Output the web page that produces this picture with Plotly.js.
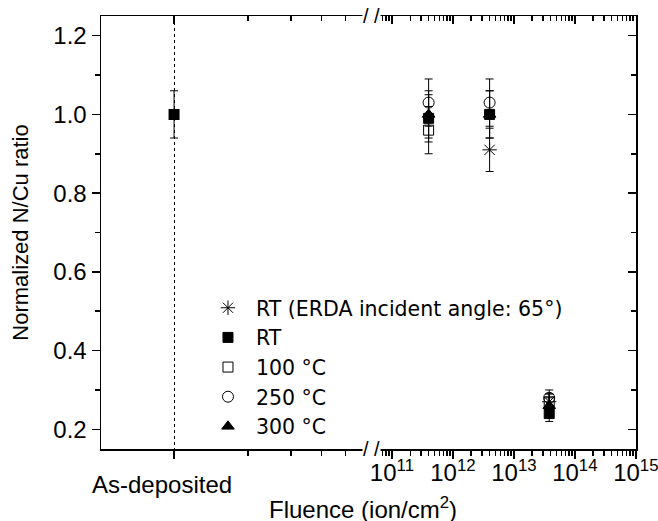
<!DOCTYPE html>
<html>
<head>
<meta charset="utf-8">
<script src="https://cdn.plot.ly/plotly-3.0.1.min.js"></script>
<style>html,body{margin:0;padding:0;background:#fff}#plot{width:658px;height:521px}</style>
</head>
<body>
<div id="plot"></div>
<script>
// ---- data ----
const asDepX = [1];              // position of the "As-deposited" category on the left (broken) axis
const asDepY = [1.0];
const asDepErr = [0.06];

const erdaX = [4e12, 3.8e13];
const erdaY = [0.91, 0.27];
const erdaErr = [0.055, 0.02];

const rtX = [4e11, 4e12, 3.8e13];
const rtY = [0.99, 1.00, 0.24];
const rtErr = [0.06, 0.06, 0.02];

const t100X = [4e11, 3.8e13];
const t100Y = [0.96, 0.27];
const t100Err = [0.06, 0.02];

const t250X = [4e11, 4e12, 3.8e13];
const t250Y = [1.03, 1.03, 0.28];
const t250Err = [0.06, 0.06, 0.02];

const t300X = [4e11, 4e12, 3.8e13];
const t300Y = [1.00, 1.00, 0.26];
const t300Err = [0.06, 0.06, 0.02];

const decades = [1e11, 1e12, 1e13, 1e14, 1e15];
const decadeLabels = ['10<sup>11</sup>', '10<sup>12</sup>', '10<sup>13</sup>', '10<sup>14</sup>', '10<sup>15</sup>'];
const leftTickVals = [1];
const leftTickText = ['As-deposited'];
const leftMinor = [2, 3, 4, 5];

// ---- build ----
const FAM = 'Liberation Sans, Arial, Helvetica, sans-serif';
const tickFont = {family: FAM, size: 24, color: '#000'};
function err(a) { return {type: 'data', array: a, visible: true, color: '#000', thickness: 1, width: 4}; }
function series(name, x, y, e, symbol, size) {
  return {type: 'scatter', mode: 'markers', name: name, x: x, y: y, xaxis: 'x2', yaxis: 'y',
    error_y: err(e), hoverinfo: 'skip',
    marker: {symbol: symbol, size: size, color: '#000', line: {color: '#000', width: 1}}};
}
function ghost(x, y, xa, ya) {
  return {type: 'scatter', mode: 'markers', x: x, y: y, xaxis: xa, yaxis: ya, showlegend: false,
    hoverinfo: 'skip', marker: {opacity: 0, size: 1}};
}
const traces = [
  {type: 'scatter', mode: 'markers', name: 'as-dep', showlegend: false, x: asDepX, y: asDepY,
   xaxis: 'x', yaxis: 'y', error_y: err(asDepErr), hoverinfo: 'skip',
   marker: {symbol: 'square', size: 11, color: '#000'}},
  series('RT (ERDA incident angle: 65°)', erdaX, erdaY, erdaErr, 'asterisk-open', 12),
  series('RT', rtX, rtY, rtErr, 'square', 10),
  series('100 °C', t100X, t100Y, t100Err, 'square-open', 10),
  series('250 °C', t250X, t250Y, t250Err, 'circle-open', 11),
  series('300 °C', t300X, t300Y, t300Err, 'triangle-up', 11),
  ghost(asDepX, asDepY, 'x3', 'y'),
  ghost(rtX, rtY, 'x4', 'y'),
  ghost(rtX, rtY, 'x2', 'y2')
];

const minorRight = [];
for (let d = 10; d <= 14; d++) for (let k = 2; k <= 9; k++) minorRight.push(k * Math.pow(10, d));

const split = 0.505;
const leftRange = [-0.298, 0.804];
const rightRange = [10.66, 15.003];
const yRange = [0.15, 1.25];

const common = {showline: true, linecolor: '#000', linewidth: 1.5, showgrid: false, zeroline: false,
  tickwidth: 1.5, tickcolor: '#000', ticklen: 8, fixedrange: true, tickfont: tickFont};

const layout = {
  width: 658, height: 521,
  margin: {l: 101, r: 22, t: 16, b: 72},
  paper_bgcolor: '#fff', plot_bgcolor: '#fff',
  font: tickFont,
  showlegend: true,
  legend: {x: 0.185, y: 0.372, xanchor: 'left', yanchor: 'top', bgcolor: 'rgba(0,0,0,0)',
           font: {family: 'DejaVu Sans, sans-serif', size: 20.5, color: '#000'}, tracegroupgap: 0, itemwidth: 46},
  xaxis: Object.assign({}, common, {type: 'log', domain: [0, split], range: leftRange, anchor: 'y',
          tickmode: 'array', tickvals: leftTickVals, ticktext: leftTickText, ticks: 'outside',
          ticklabelshift: -12, ticklabelstandoff: 6,
          showgrid: true, gridcolor: '#000', griddash: 'dot', gridwidth: 1,
          minor: {tickmode: 'array', tickvals: leftMinor, ticks: 'outside', ticklen: 5, tickcolor: '#000', showgrid: false}}),
  xaxis2: Object.assign({}, common, {type: 'log', domain: [split, 1], range: rightRange, anchor: 'y',
          tickmode: 'array', tickvals: decades, ticktext: decadeLabels, ticks: 'outside',
          ticklabelstandoff: -6, ticklabeloverflow: 'allow',
          minor: {tickmode: 'array', tickvals: minorRight, ticks: 'outside', ticklen: 5, tickcolor: '#000', showgrid: false}}),
  xaxis3: Object.assign({}, common, {type: 'log', overlaying: 'x', side: 'top', range: leftRange, anchor: 'y',
          tickmode: 'array', tickvals: leftTickVals, showticklabels: false, ticks: 'inside',
          minor: {tickmode: 'array', tickvals: leftMinor, ticks: 'inside', ticklen: 5, tickcolor: '#000', showgrid: false}}),
  xaxis4: Object.assign({}, common, {type: 'log', overlaying: 'x2', side: 'top', range: rightRange, anchor: 'y',
          tickmode: 'array', tickvals: decades, showticklabels: false, ticks: 'inside',
          minor: {tickmode: 'array', tickvals: minorRight, ticks: 'inside', ticklen: 5, tickcolor: '#000', showgrid: false}}),
  yaxis: Object.assign({}, common, {range: yRange, anchor: 'x', dtick: 0.2, tick0: 0, tickformat: '.1f',
          ticks: 'outside',
          minor: {dtick: 0.1, ticks: 'outside', ticklen: 5, tickcolor: '#000', showgrid: false},
          title: {text: 'Normalized N/Cu ratio', font: {family: FAM, size: 22, color: '#000'}, standoff: 18}}),
  yaxis2: Object.assign({}, common, {range: yRange, overlaying: 'y', side: 'right', anchor: 'x2', dtick: 0.2, tick0: 0,
          showticklabels: false, ticks: 'inside',
          minor: {dtick: 0.1, ticks: 'inside', ticklen: 5, tickcolor: '#000', showgrid: false}}),
  annotations: [
    {text: 'Fluence (ion/cm<sup>2</sup>)', xref: 'paper', yref: 'paper', x: 0.49, y: -0.136,
     xanchor: 'center', yanchor: 'middle', showarrow: false, font: {family: FAM, size: 24, color: '#000'}},
    {text: '/ /', xref: 'paper', yref: 'paper', x: split, y: 0, xanchor: 'center', yanchor: 'middle',
     showarrow: false, font: {family: FAM, size: 20, color: '#000'}, bgcolor: '#fff', borderpad: 0},
    {text: '/ /', xref: 'paper', yref: 'paper', x: split, y: 1, xanchor: 'center', yanchor: 'middle',
     showarrow: false, font: {family: FAM, size: 20, color: '#000'}, bgcolor: '#fff', borderpad: 0}
  ]
};

Plotly.newPlot('plot', traces, layout, {displayModeBar: false, staticPlot: true});
</script>
</body>
</html>
